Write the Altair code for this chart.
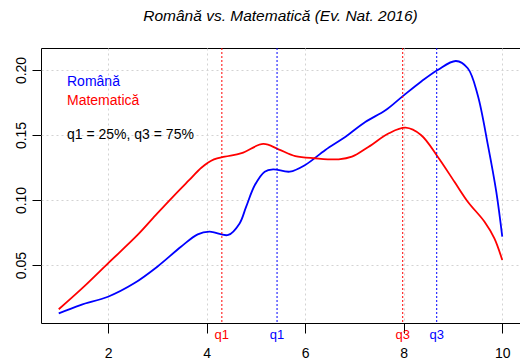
import altair as alt
import pandas as pd

# Density-like curves
ro_x = [1.0, 1.44, 2.0, 2.53, 3.0, 3.48, 3.82, 4.06, 4.44, 4.67, 4.8, 4.98, 5.18, 5.35, 5.69, 6.0, 6.41, 6.82, 7.22, 7.63, 7.97, 8.35, 8.69, 9.06, 9.3, 9.5, 9.71, 9.88, 10.0]
ro_y = [0.0128, 0.0192, 0.0256, 0.0359, 0.0487, 0.064, 0.0736, 0.0756, 0.0731, 0.082, 0.0945, 0.1115, 0.1218, 0.1236, 0.1218, 0.1269, 0.1385, 0.1487, 0.160, 0.169, 0.1795, 0.191, 0.20, 0.2069, 0.2013, 0.181, 0.142, 0.106, 0.0718]

ma_x = [1.0, 1.5, 2.0, 2.6, 3.0, 3.35, 3.65, 3.9, 4.15, 4.37, 4.71, 5.15, 5.46, 5.8, 6.2, 6.68, 6.95, 7.29, 7.7, 8.04, 8.35, 8.69, 9.03, 9.3, 9.64, 9.84, 10.0]
ma_y = [0.016, 0.033, 0.0513, 0.0731, 0.0897, 0.1038, 0.1154, 0.125, 0.1312, 0.1333, 0.136, 0.1431, 0.139, 0.1338, 0.1321, 0.1313, 0.1333, 0.141, 0.1513, 0.1556, 0.150, 0.1333, 0.114, 0.0987, 0.0833, 0.0705, 0.0538]

quant_x = [4.31, 5.43, 7.98, 8.67]
quant_label = ["q1", "q1", "q3", "q3"]
quant_subject = ["Matematică", "Română", "Matematică", "Română"]

x_ticks = [2, 4, 6, 8, 10]
y_ticks = [0.05, 0.10, 0.15, 0.20]

subjects = ["Română", "Matematică"]
colors = ["#0000ff", "#ff0000"]

W, H = 479, 275
FONT = "Liberation Sans"

curves_df = pd.DataFrame({
    "x": ro_x + ma_x,
    "y": ro_y + ma_y,
    "subject": ["Română"] * len(ro_x) + ["Matematică"] * len(ma_x),
})
quant_df = pd.DataFrame({"x": quant_x, "label": quant_label, "subject": quant_subject})

xs = alt.Scale(domain=[0.64, 10.36], nice=False, zero=False)
ys = alt.Scale(domain=[0.0054, 0.2169], nice=False, zero=False)
cs = alt.Scale(domain=subjects, range=colors)

xaxis = alt.Axis(values=x_ticks, title=None, grid=True, gridColor="#d3d3d3",
                 gridDash=[2, 3], tickSize=10, labelPadding=13, labelFontSize=14)
yaxis = alt.Axis(values=y_ticks, title=None, format=".2f", grid=True, gridColor="#d3d3d3",
                 gridDash=[2, 3], tickSize=9, labelAngle=270, labelPadding=4, labelFontSize=14)

curves = alt.Chart(curves_df).mark_line(strokeWidth=1.8, interpolate="catmull-rom").encode(
    x=alt.X("x:Q", scale=xs, axis=xaxis),
    y=alt.Y("y:Q", scale=ys, axis=yaxis),
    color=alt.Color("subject:N", scale=cs, legend=None),
)

qlines = alt.Chart(quant_df).mark_rule(strokeWidth=1, strokeDash=[2, 2]).encode(
    x=alt.X("x:Q", scale=xs, axis=xaxis),
    y=alt.value(0),
    y2=alt.value(H),
    color=alt.Color("subject:N", scale=cs, legend=None),
)

qlabels = alt.Chart(quant_df).mark_text(fontSize=13, font=FONT, baseline="middle", align="center").encode(
    x=alt.X("x:Q", scale=xs, axis=xaxis),
    y=alt.value(H + 12),
    text="label:N",
    color=alt.Color("subject:N", scale=cs, legend=None),
)

def annot(text, y, color, size=14, style="normal", align="left", x=26, baseline="middle"):
    return alt.Chart(pd.DataFrame({"t": [text]})).mark_text(
        font=FONT, fontSize=size, fontStyle=style, align=align, baseline=baseline, color=color
    ).encode(x=alt.value(x), y=alt.value(y), text="t:N")

leg1 = annot("Română", 34, "#0000ff")
leg2 = annot("Matematică", 53, "#ff0000")
leg3 = annot("q1 = 25%, q3 = 75%", 87, "#000000")
title = annot("Română vs. Matematică (Ev. Nat. 2016)", -27.5, "#000000", size=15.5,
              style="italic", align="center", x=W / 2, baseline="alphabetic")

chart = alt.layer(curves, qlines, qlabels, leg1, leg2, leg3, title).properties(
    width=W, height=H,
    autosize=alt.AutoSizeParams(type="none"),
    padding={"left": 33, "top": 40, "right": 0, "bottom": 40},
).configure_view(stroke="#000000", strokeWidth=1).configure_axis(
    domain=False, tickColor="#000000", labelColor="#000000", labelFont=FONT
)

chart.save("out.html", embed_options={"renderer": "svg", "actions": False})
